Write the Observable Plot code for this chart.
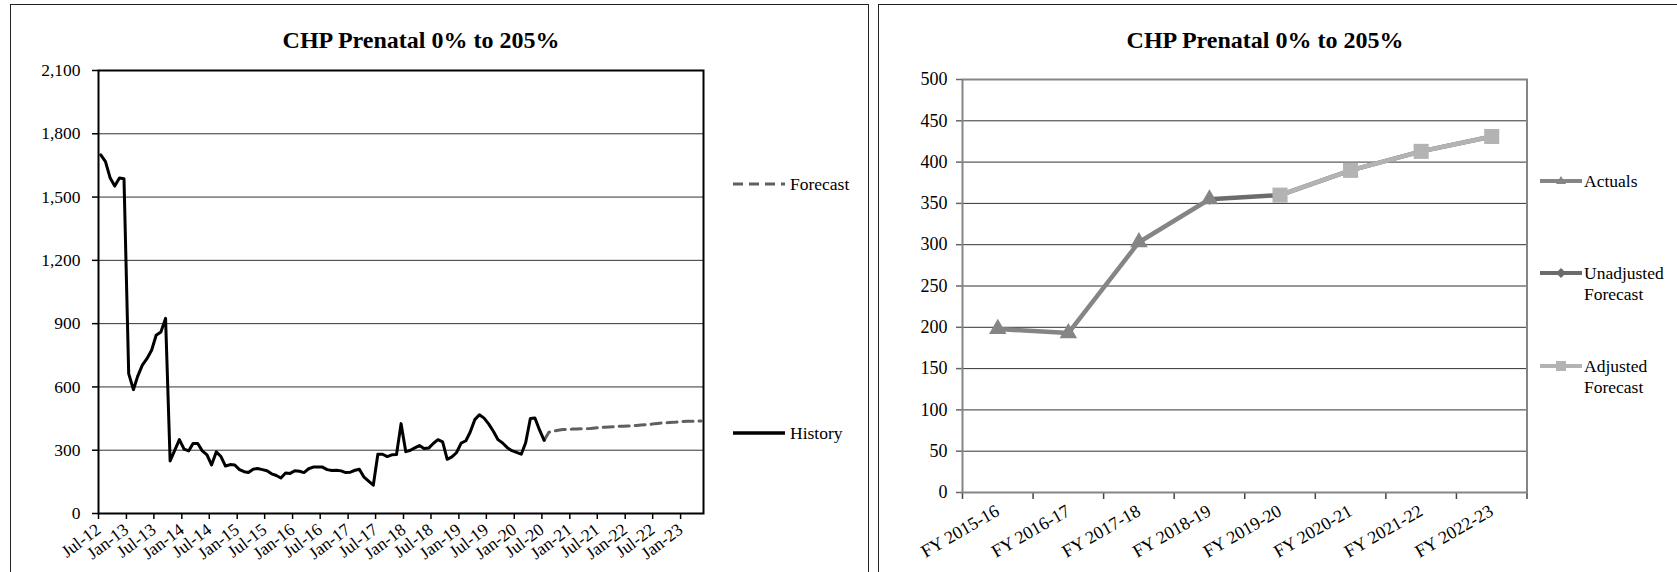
<!DOCTYPE html>
<html><head><meta charset="utf-8">
<script src="https://cdn.jsdelivr.net/npm/d3@7"></script>
<script src="https://cdn.jsdelivr.net/npm/@observablehq/plot@0.6"></script>
<style>
body{margin:0;background:#fff;width:1677px;height:572px;overflow:hidden;position:relative;font-family:"Liberation Serif","Times New Roman",serif;color:#000;}
.panel{position:absolute;top:4px;height:620px;border:1px solid #222;box-sizing:border-box;}
.title{position:absolute;top:28px;font-weight:bold;font-size:24px;line-height:1;white-space:nowrap;transform:translateX(-50%);}
.chart{position:absolute;top:0;}
#legend{position:absolute;left:0;top:0;}
</style></head><body>
<div class="panel" style="left:10px;width:859px"></div>
<div class="panel" style="left:878px;width:820px"></div>
<div class="title" style="left:421px">CHP Prenatal 0% to 205%</div>
<div class="title" style="left:1265px">CHP Prenatal 0% to 205%</div>
<div id="left" class="chart" style="left:0"></div>
<div id="right" class="chart" style="left:870px"></div>
<svg id="legend" width="1677" height="572" font-family="Liberation Serif, Times New Roman, serif" font-size="17.5">
  <line x1="733" y1="184" x2="785" y2="184" stroke="#5f5f5f" stroke-width="3" stroke-dasharray="10,6"/>
  <text x="790" y="190">Forecast</text>
  <line x1="733" y1="433" x2="785" y2="433" stroke="#000" stroke-width="3.5"/>
  <text x="790" y="439">History</text>

  <line x1="1540" y1="181" x2="1582" y2="181" stroke="#858585" stroke-width="4"/>
  <path d="M1561,176 L1566,184 L1556,184 Z" fill="#858585"/>
  <text x="1584" y="187">Actuals</text>
  <line x1="1540" y1="273" x2="1582" y2="273" stroke="#6b6b6b" stroke-width="4"/>
  <path d="M1561,268 L1566,273 L1561,278 L1556,273 Z" fill="#6b6b6b"/>
  <text x="1584" y="279">Unadjusted</text>
  <text x="1584" y="299.5">Forecast</text>
  <line x1="1540" y1="366" x2="1582" y2="366" stroke="#b3b3b3" stroke-width="4"/>
  <rect x="1556" y="361" width="10" height="10" fill="#b3b3b3"/>
  <text x="1584" y="372">Adjusted</text>
  <text x="1584" y="392.5">Forecast</text>
</svg>
<script>
// ---- Left chart data (monthly, starting Jul-12) ----
const historyStartYear = 2012, historyStartMonth = 6; // Jul-12
const historyValues = [
  1700,1668,1590,1552,1590,1587, 663,587,650,703,734,774,
  845,860,925,249,300,350, 305,297,332,332,297,278,
  230,292,270,225,232,230, 208,198,194,210,213,208,
  203,188,180,168,192,190, 203,200,194,212,220,221,
  220,208,204,205,202,194, 196,205,210,172,153,134,
  281,281,270,278,280,426, 293,300,311,322,308,310,
  332,350,340,257,268,288, 334,345,385,445,468,452,
  425,390,350,334,312,298, 290,281,335,450,453,395,
  347
];
const forecastStartYear = 2020, forecastStartMonth = 6; // Jul-20
const forecastValues = [
  347,385,391,395,398,399, 400,401,402,402,403,405,
  407,409,410,411,413,414, 415,416,417,419,421,423,
  426,428,430,431,432,434, 436,437,437,438,438
];
const leftYTicks = [0,300,600,900,1200,1500,1800,2100];

// ---- Right chart data ----
const fiscalYears = ["FY 2015-16","FY 2016-17","FY 2017-18","FY 2018-19","FY 2019-20","FY 2020-21","FY 2021-22","FY 2022-23"];
const actuals    = [198,193,303,355,null,null,null,null];
const unadjusted = [null,null,null,355,360,390,413,431];
const adjusted   = [null,null,null,null,360,390,413,431];
const rightYTicks = [0,50,100,150,200,250,300,350,400,450,500];

const font = '"Liberation Serif","Times New Roman",serif';

const hist = historyValues.map((v,i)=>({date:new Date(Date.UTC(historyStartYear, historyStartMonth+i, 16)), value:v}));
const fc = forecastValues.map((v,i)=>({date:new Date(Date.UTC(forecastStartYear, forecastStartMonth+i, 16)), value:v}));
const xStart = new Date(Date.UTC(2012,6,1)), xEnd = new Date(Date.UTC(2023,5,1));
const xTicks = d3.utcMonth.every(6).range(xStart, xEnd);

const left = Plot.plot({
  width:720, height:572, marginLeft:98, marginRight:17, marginTop:70, marginBottom:59,
  style:{fontFamily:font, fontSize:"17.5px", color:"#000", background:"transparent", overflow:"visible"},
  x:{type:"utc", domain:[xStart, xEnd]},
  y:{domain:[0,2100]},
  marks:[
    Plot.ruleY(leftYTicks.slice(1), {stroke:"#333", strokeWidth:1}),
    Plot.axisY({ticks:leftYTicks, tickSize:6, tickPadding:12, tickFormat:d3.format(","), label:null, fontSize:17.5, strokeWidth:1.5}),
    Plot.axisX({ticks:xTicks, tickSize:6, tickPadding:8, tickRotate:-37, tickFormat:d3.utcFormat("%b-%y"), label:null, fontSize:17.5, strokeWidth:1.5}),
    Plot.line(fc, {x:"date", y:"value", stroke:"#5f5f5f", strokeWidth:3, strokeDasharray:"10,6"}),
    Plot.line(hist, {x:"date", y:"value", stroke:"#000", strokeWidth:3}),
    Plot.frame({stroke:"#000", strokeWidth:2})
  ]
});
document.getElementById("left").append(left);

const rows = fiscalYears.map((fy,i)=>({pos:i+0.5, actual:actuals[i], unadj:unadjusted[i], adj:adjusted[i]}));
const right = Plot.plot({
  width:807, height:572, marginLeft:92, marginRight:150.5, marginTop:79, marginBottom:80,
  style:{fontFamily:font, fontSize:"18px", color:"#000", background:"transparent", overflow:"visible"},
  x:{domain:[0, fiscalYears.length]},
  y:{domain:[0,500]},
  marks:[
    Plot.ruleY(rightYTicks.slice(1), {stroke:"#333", strokeWidth:1}),
    Plot.axisY({ticks:rightYTicks, tickSize:6, tickPadding:9, label:null, fontSize:18, stroke:"#666", strokeWidth:1.5}),
    Plot.axisX({ticks:d3.range(fiscalYears.length+1), tickSize:7, tickFormat:()=>"", label:null, stroke:"#444", strokeWidth:1.5}),
    Plot.axisX({ticks:rows.map(d=>d.pos), tickSize:0, tickPadding:17, tickRotate:-30, tickFormat:(d)=>fiscalYears[Math.floor(d)], label:null, fontSize:18}),
    Plot.frame({stroke:"#858585", strokeWidth:2}),
    Plot.line(rows, {x:"pos", y:"unadj", stroke:"#6b6b6b", strokeWidth:4.5}),
    Plot.dot(rows, {x:"pos", y:"unadj", symbol:"diamond", r:3.5, fill:"#6b6b6b"}),
    Plot.line(rows, {x:"pos", y:"actual", stroke:"#858585", strokeWidth:4.5}),
    Plot.dot(rows, {x:"pos", y:"actual", symbol:"triangle", r:6.5, fill:"#858585"}),
    Plot.line(rows, {x:"pos", y:"adj", stroke:"#b3b3b3", strokeWidth:4.5}),
    Plot.dot(rows, {x:"pos", y:"adj", symbol:"square", r:8.5, fill:"#b3b3b3"})
  ]
});
document.getElementById("right").append(right);
</script>
</body></html>
